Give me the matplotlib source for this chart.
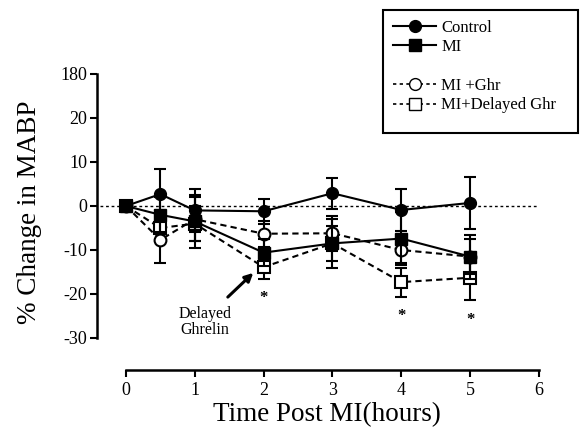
import matplotlib
matplotlib.use("Agg")
import matplotlib.pyplot as plt
from matplotlib.lines import Line2D
from matplotlib.patches import Rectangle
import numpy as np

plt.rcParams['font.family'] = ['Liberation Serif', 'DejaVu Serif']

time = [0, 0.5, 1, 2, 3, 4, 5]
control = [0, 2.7, -1.0, -1.2, 2.9, -0.9, 0.7]
control_err = [0, 5.6, 4.8, 2.8, 3.5, 4.8, 6.0]
mi = [0, -2.0, -3.5, -10.6, -8.5, -7.4, -11.5]
mi_err = [0, 4.0, 6.0, 3.0, 5.5, 6.0, 5.0]
mi_ghr = [0, -7.7, -3.0, -6.3, -6.2, -10.0, -11.5]
mi_ghr_err = [0, 5.2, 5.0, 3.0, 4.0, 3.0, 4.0]
delayed = [0, -5.0, -4.0, -13.9, -8.5, -17.3, -16.3]
delayed_err = [0, 3.0, 4.0, 2.6, 4.0, 3.3, 5.0]

x_ticks = [0, 1, 2, 3, 4, 5, 6]
y_ticks = [-30, -20, -10, 0, 10, 20, 30]
y_tick_labels = ['-30', '-20', '-10', '0', '10', '20', '180']
star_x = [2, 4, 5]
star_y = [-21, -25, -26]

W, H = 583, 429
fig = plt.figure(figsize=(W / 100, H / 100), dpi=100)
ax = fig.add_axes([97 / W, (H - 338) / H, (539 - 97) / W, (338 - 74) / H])
ax.set_xlim(-0.42, 6.0)
ax.set_ylim(-30, 30)

ax.plot([-0.38, 5.97], [0, 0], linestyle=(0, (2, 2)), color='black', lw=1.0, zorder=1)

ms = 8.5
common = dict(color='black', capsize=4, elinewidth=1.5, capthick=1.5, markersize=ms, lw=1.5)
ax.errorbar(time, delayed, yerr=delayed_err, fmt='s', linestyle=(0, (3, 2)), mfc='white', mec='black', mew=1.5, zorder=3, **common)
ax.errorbar(time, mi_ghr, yerr=mi_ghr_err, fmt='o', linestyle=(0, (3, 2)), mfc='white', mec='black', mew=1.5, zorder=4, **common)
ax.errorbar(time, mi, yerr=mi_err, fmt='s', linestyle='-', mfc='black', zorder=5, **common)
ax.errorbar(time, control, yerr=control_err, fmt='o', linestyle='-', mfc='black', zorder=6, **common)

for sx, sy in zip(star_x, star_y):
    ax.text(sx, sy, '*', ha='center', va='center', fontsize=12, fontweight='bold')

ax.annotate('', xy=(1.85, -15.2), xytext=(1.48, -20.7),
            arrowprops=dict(arrowstyle='-|>', color='black', lw=2.2, mutation_scale=12,
                            shrinkA=0, shrinkB=0))
ax.text(1.15, -22.8, 'Delayed\nGhrelin', ha='center', va='top', fontsize=11.5, linespacing=0.95)

for s in ['top', 'right']:
    ax.spines[s].set_visible(False)
ax.spines['left'].set_linewidth(1.8)
ax.spines['bottom'].set_linewidth(1.8)
ax.spines['bottom'].set_position(('outward', 23))
ax.spines['bottom'].set_bounds(0, 6)
ax.set_xticks(x_ticks)
ax.set_xticklabels([str(t) for t in x_ticks])
ax.set_yticks(y_ticks)
ax.set_yticklabels(y_tick_labels)
ax.tick_params(axis='both', direction='out', length=5, width=1.5, labelsize=13)
ax.tick_params(axis='x', pad=4)
ax.tick_params(axis='y', pad=2)
fig.text(327 / W, 1 - 421 / H, 'Time Post MI(hours)', ha='center', va='baseline', fontsize=19.5)
fig.text(30 / W, 1 - 212 / H, '% Change in MABP', ha='center', va='center', rotation=90, fontsize=19.5)

handles = [
    Line2D([], [], color='black', lw=1.5, marker='o', mfc='black', ms=ms, linestyle='-'),
    Line2D([], [], color='black', lw=1.5, marker='s', mfc='black', ms=ms, linestyle='-'),
    Line2D([], [], color='none'),
    Line2D([], [], color='black', lw=1.2, marker='o', mfc='white', ms=ms, linestyle=(0, (2, 2))),
    Line2D([], [], color='black', lw=1.2, marker='s', mfc='white', ms=ms, linestyle=(0, (2, 2))),
]
labels = ['Control', 'MI', '', 'MI +Ghr', 'MI+Delayed Ghr']
leg = fig.legend(handles, labels, loc='upper left',
                 bbox_to_anchor=(383 / W, 0, 195 / W, 1 - 10 / H), mode='expand',
                 frameon=False, fontsize=12,
                 handlelength=2.6, borderpad=0.6, labelspacing=0.2, handletextpad=0.3,
                 borderaxespad=0)
fig.patches.append(Rectangle((383 / W, 1 - 133 / H), 195 / W, 123 / H,
                             transform=fig.transFigure, fill=False,
                             edgecolor='black', lw=1.5, zorder=10))

fig.savefig('out.png', dpi=100)
